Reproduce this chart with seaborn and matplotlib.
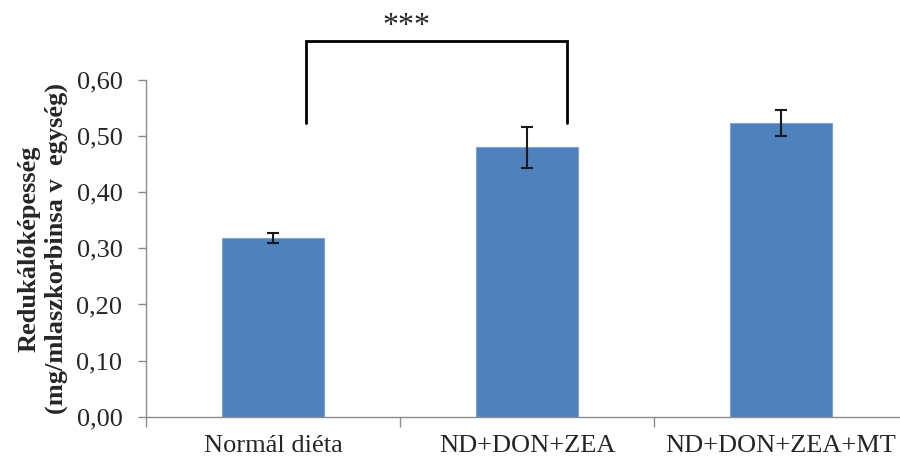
import matplotlib
matplotlib.use("Agg")
import matplotlib.pyplot as plt
import seaborn as sns
import pandas as pd
from matplotlib.ticker import FuncFormatter, FixedLocator

categories = ["Normál diéta", "ND+DON+ZEA", "ND+DON+ZEA+MT"]
values = [0.318, 0.480, 0.524]
errors = [0.009, 0.037, 0.023]
yticks = [0.0, 0.1, 0.2, 0.3, 0.4, 0.5, 0.6]
ylabel = "Redukálóképesség\n(mg/mlaszkorbinsa v  egység)"
sig_label = "***"

sns.set_style("white")
plt.rcParams["font.family"] = ["Liberation Serif", "DejaVu Serif"]

df = pd.DataFrame({"cat": categories, "val": values})

fig = plt.figure(figsize=(9, 4.61), dpi=100)
ax = fig.add_axes([146 / 900, 1 - 416.7 / 461, 762 / 900, 336.7 / 461])

sns.barplot(data=df, x="cat", y="val", color="#4F81BD", saturation=1,
            width=0.4, edgecolor="#7FA3D2", linewidth=0.8, ax=ax)
ax.errorbar(range(len(values)), values, yerr=errors, fmt="none",
            ecolor="#1a1a1a", elinewidth=1.5, capsize=4.6, capthick=1.5)

ax.set_xlim(-0.5, 2.5)
ax.set_ylim(0, 0.6)
ax.set_yticks(yticks)
ax.yaxis.set_major_formatter(FuncFormatter(lambda v, p: f"{v:.2f}".replace(".", ",")))
ax.tick_params(axis="y", which="major", left=True, length=6, width=1,
               color="#8c8c8c", labelsize=19, pad=11, direction="out")
ax.tick_params(axis="x", which="major", bottom=False, labelsize=19, pad=10)
ax.xaxis.set_minor_locator(FixedLocator([-0.5, 0.5, 1.5, 2.5]))
ax.tick_params(axis="x", which="minor", bottom=True, length=7, width=1,
               color="#8c8c8c", direction="out")
ax.set_xlabel("")
ax.set_ylabel(ylabel, fontsize=19, fontweight="bold", linespacing=1.2, labelpad=6)

for s in ["top", "right"]:
    ax.spines[s].set_visible(False)
for s in ["left", "bottom"]:
    ax.spines[s].set_color("#8c8c8c")
    ax.spines[s].set_linewidth(1)

# significance bracket
bx0, bx1 = 0.128, 1.156
by0, by1 = 0.524, 0.670
ax.plot([bx0, bx0, bx1, bx1], [by0, by1, by1, by0], color="black",
        linewidth=2, clip_on=False, solid_joinstyle="miter")
ax.text((bx0 + bx1) / 2 - 0.115, 0.695, sig_label, ha="center", va="center",
        fontsize=23, clip_on=False)

fig.savefig("out.png", dpi=100)
